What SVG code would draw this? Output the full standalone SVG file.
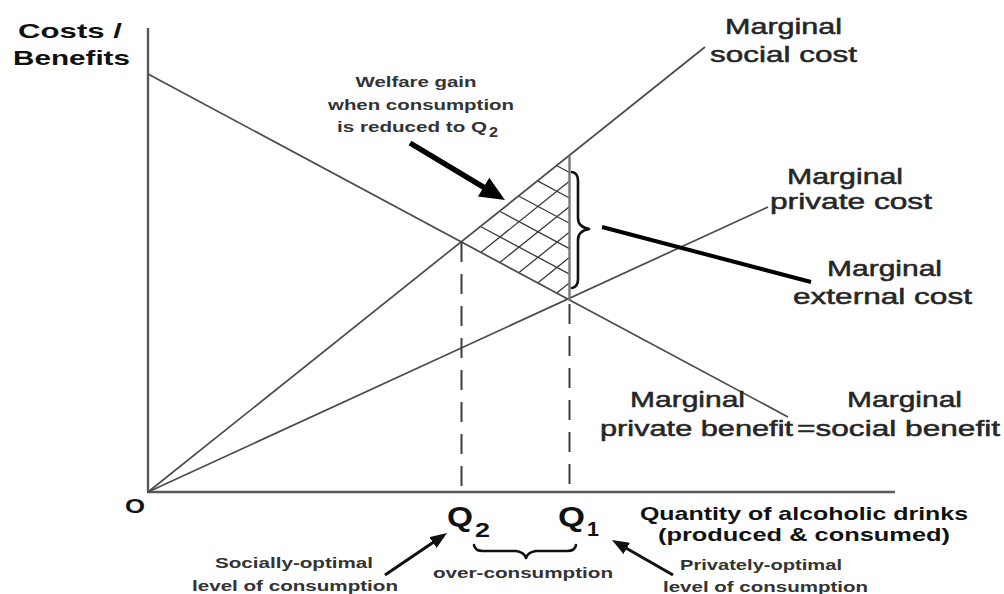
<svg xmlns="http://www.w3.org/2000/svg" width="1004" height="594" viewBox="0 0 1004 594">
<style>
.ax{stroke:#5a5a5a;stroke-width:2.4;fill:none}
.cv{stroke:#4a4a4a;stroke-width:1.7;fill:none}
.ht{stroke:#3a3a3a;stroke-width:1.3;fill:none}
.ds{stroke:#3c3c3c;stroke-width:2;stroke-dasharray:20 12;fill:none}
.br{stroke:#111;stroke-width:2.6;fill:none;stroke-linejoin:round;stroke-linecap:round}
.hd{font-family:"Liberation Sans",Arial,sans-serif;font-weight:bold;fill:#111}
.lb{font-family:"Liberation Sans",Arial,sans-serif;font-size:22px;fill:#262626;stroke:#262626;stroke-width:0.5}
.sm{font-family:"Liberation Sans",Arial,sans-serif;font-weight:bold;font-size:15px;fill:#333}
.ar{stroke:#111;stroke-width:3;fill:none}
</style>
<defs>
<marker id="ah" markerUnits="userSpaceOnUse" markerWidth="17" markerHeight="13" refX="9" refY="6.5" orient="auto">
<path d="M0,0 L17,6.5 L0,13 z" fill="#111"/>
</marker>
</defs>

<g id="axes">
<line class="ax" x1="148" y1="28" x2="148" y2="492"/>
<line class="ax" x1="147" y1="492" x2="895" y2="492"/>
<text class="hd" x="18" y="38" font-size="21" textLength="104" lengthAdjust="spacingAndGlyphs">Costs /</text>
<text class="hd" x="13" y="65" font-size="21" textLength="117" lengthAdjust="spacingAndGlyphs">Benefits</text>
<text class="hd" x="125" y="513" font-size="20" textLength="20" lengthAdjust="spacingAndGlyphs">O</text>
</g>

<g id="welfare-area">
<path class="ht" d="M481,226.8 L569,273.9 M500,211.5 L569,248.4 M519,196.3 L569,223 M538,181.1 L569,197.7 M557,165.8 L569,172.2"/>
<path class="ht" d="M481,252.2 L569,181.6 M500,262.3 L569,207 M519,272.5 L569,232.4 M538,282.7 L569,257.8 M557,292.8 L569,283.2"/>
</g>

<g id="curves">
<line id="msc" class="cv" x1="148" y1="492" x2="705" y2="47"/>
<line id="mpc" class="cv" x1="148" y1="492" x2="768" y2="207"/>
<line id="mpb" class="cv" x1="148" y1="74" x2="788" y2="417"/>
<line id="q1-solid" x1="569.5" y1="156" x2="569.5" y2="300" stroke="#777" stroke-width="2.4"/>
</g>

<g id="connectors">
<line class="ds" x1="461.5" y1="242" x2="461.5" y2="492"/>
<line class="ds" x1="569.5" y1="304" x2="569.5" y2="492"/>
<line x1="410" y1="143" x2="486" y2="188.6" stroke="#000" stroke-width="5.5"/>
<polygon points="505,200 478,196.5 489.3,177.7" fill="#000"/>
<line x1="602" y1="227" x2="811" y2="282" stroke="#000" stroke-width="4"/>
<line class="ar" x1="385" y1="575" x2="440.4" y2="537.5" marker-end="url(#ah)"/>
<line class="ar" x1="673" y1="575" x2="618.9" y2="544" marker-end="url(#ah)"/>
<path class="br" d="M572,172 Q578,173 578,181 L578,218 Q578,227 589,229 Q578,231 578,240 L578,279 Q578,287 572,288"/>
<path class="br" d="M474,545 Q475,551 483,551 L516,551 Q524,552 526,558 Q528,552 536,551 L567,551 Q575,551 576,545"/>
</g>

<g id="label-welfare">
<text class="sm" x="416" y="87" text-anchor="middle" textLength="121" lengthAdjust="spacingAndGlyphs">Welfare gain</text>
<text class="sm" x="421" y="110" text-anchor="middle" textLength="186" lengthAdjust="spacingAndGlyphs">when consumption</text>
<text class="sm" x="337" y="132" textLength="150" lengthAdjust="spacingAndGlyphs">is reduced to Q</text>
<text class="sm" x="489" y="137" font-size="12" textLength="9" lengthAdjust="spacingAndGlyphs">2</text>
</g>

<g id="label-msc">
<text class="lb" x="725" y="34" textLength="117" lengthAdjust="spacingAndGlyphs">Marginal</text>
<text class="lb" x="710" y="62" textLength="147" lengthAdjust="spacingAndGlyphs">social cost</text>
</g>

<g id="label-mpc">
<text class="lb" x="787" y="184" textLength="116" lengthAdjust="spacingAndGlyphs">Marginal</text>
<text class="lb" x="770" y="209" textLength="162" lengthAdjust="spacingAndGlyphs">private cost</text>
</g>

<g id="label-mec">
<text class="lb" x="827" y="276" textLength="115" lengthAdjust="spacingAndGlyphs">Marginal</text>
<text class="lb" x="793" y="304" textLength="179" lengthAdjust="spacingAndGlyphs">external cost</text>
</g>

<g id="label-mpb">
<text class="lb" x="630" y="407" textLength="115" lengthAdjust="spacingAndGlyphs">Marginal</text>
<text class="lb" x="600" y="436" textLength="193" lengthAdjust="spacingAndGlyphs">private benefit</text>
</g>

<g id="label-msb">
<text class="lb" x="847" y="407" textLength="115" lengthAdjust="spacingAndGlyphs">Marginal</text>
<text class="lb" x="797" y="436" textLength="203" lengthAdjust="spacingAndGlyphs">=social benefit</text>
</g>

<g id="label-q2">
<text class="hd" x="447" y="526" font-size="28" textLength="26" lengthAdjust="spacingAndGlyphs">Q</text>
<text class="hd" x="475" y="537" font-size="20" textLength="15" lengthAdjust="spacingAndGlyphs">2</text>
</g>

<g id="label-q1">
<text class="hd" x="558" y="526" font-size="28" textLength="27" lengthAdjust="spacingAndGlyphs">Q</text>
<text class="hd" x="587" y="536" font-size="20" textLength="12" lengthAdjust="spacingAndGlyphs">1</text>
</g>

<g id="label-quantity">
<text class="hd" x="640" y="520" font-size="19" textLength="328" lengthAdjust="spacingAndGlyphs">Quantity of alcoholic drinks</text>
<text class="hd" x="658" y="541" font-size="19" textLength="292" lengthAdjust="spacingAndGlyphs">(produced &amp; consumed)</text>
</g>

<g id="label-social-opt">
<text class="sm" x="215" y="568" textLength="158" lengthAdjust="spacingAndGlyphs">Socially-optimal</text>
<text class="sm" x="192" y="591" textLength="206" lengthAdjust="spacingAndGlyphs">level of consumption</text>
</g>

<g id="label-over">
<text class="sm" x="433" y="578" textLength="180" lengthAdjust="spacingAndGlyphs">over-consumption</text>
</g>

<g id="label-private-opt">
<text class="sm" x="680" y="570" textLength="162" lengthAdjust="spacingAndGlyphs">Privately-optimal</text>
<text class="sm" x="663" y="592" textLength="205" lengthAdjust="spacingAndGlyphs">level of consumption</text>
</g>
</svg>
